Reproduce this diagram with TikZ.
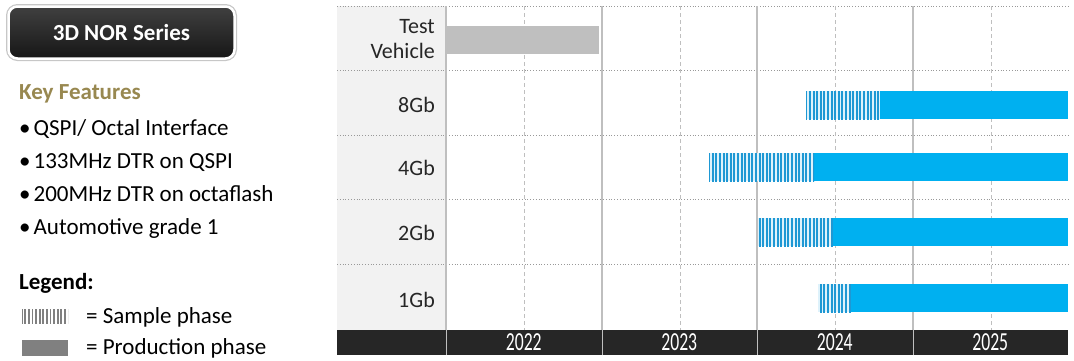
\documentclass[tikz,border=0pt]{standalone}
\usepackage{fontspec}
\setmainfont{Carlito}
\newfontfamily\yearfont[FakeStretch=0.68]{Carlito}
\definecolor{titleTop}{RGB}{64,64,64}
\definecolor{titleBottom}{RGB}{22,22,22}
\definecolor{keyGold}{RGB}{152,136,80}
\definecolor{labelGray}{RGB}{242,242,242}
\definecolor{gridGray}{RGB}{191,191,191}
\definecolor{axisDark}{RGB}{38,38,38}
\definecolor{prodBlue}{RGB}{0,176,240}
\definecolor{sampleBlue}{RGB}{30,152,212}
\definecolor{sampleBg}{RGB}{222,242,251}
\definecolor{vehicleGray}{RGB}{191,191,191}
\definecolor{legendGray}{RGB}{128,128,128}
\definecolor{textDark}{RGB}{38,38,38}
\usetikzlibrary{patterns.meta}

\begin{document}
\begin{tikzpicture}[
  x=1pt, y=-1pt,
  titlebox/.style={
    rounded corners=9pt, top color=titleTop, bottom color=titleBottom,
    draw=white, line width=2.5pt, preaction={draw=black!22, line width=5pt},
    minimum width=226pt, minimum height=52pt, inner sep=0pt,
    text=white, font=\fontsize{23}{26}\selectfont\bfseries
  },
  plain/.style={inner sep=0pt, anchor=base west, text=black, font=\fontsize{23}{26}\selectfont},
  heading/.style={plain, font=\fontsize{23}{26}\selectfont\bfseries},
  rowlabel/.style={inner sep=0pt, text=textDark, font=\fontsize{22}{25}\selectfont},
  yearlabel/.style={inner sep=0pt, text=white, font=\fontsize{26}{28}\selectfont\yearfont},
  rowline/.style={draw=black!40, dotted, line width=0.8pt},
  yearline/.style={draw=gridGray, line width=1.2pt},
  halfline/.style={draw=gridGray, line width=1pt, dash pattern=on 4pt off 3pt},
  prodbar/.style={fill=prodBlue},
  samplebar/.style={fill=sampleBg, postaction={pattern={Lines[angle=90, distance=3.6pt, line width=2pt]}, pattern color=sampleBlue}},
  legendsample/.style={fill=white, postaction={pattern={Lines[angle=90, distance=3.6pt, line width=1.8pt]}, pattern color=black!50}}
]
  \useasboundingbox (0,0) rectangle (1074,360);

  \node[titlebox] (title) at (121.5,32.5) {3D NOR Series};
  \node[heading, text=keyGold] (keyfeat) at (19,99) {Key Features};
  \foreach \t [count=\i] in {QSPI/ Octal Interface, 133MHz DTR on QSPI, 200MHz DTR on octaflash, Automotive grade 1}
    \node[plain] (feat\i) at (19,{135+33*(\i-1)}) {\textbullet\hspace{3pt}\t};

  \node[heading] (legend) at (19,289) {Legend:};
  \path[legendsample] (22,309) rectangle (68,323);
  \fill[legendGray] (22,340) rectangle (68,356);
  \node[plain] (sample) at (86,323) {= Sample phase};
  \node[plain] (prod) at (86,354) {= Production phase};

  \fill[labelGray] (337,6) rectangle (446,330);
  \foreach \y in {6,70,135,199,264}
    \draw[rowline] (337,\y) -- (1070,\y);
  \foreach \x in {446,602,757,913}
    \draw[yearline] (\x,6) -- (\x,330);
  \foreach \x in {524,680,835,991}
    \draw[halfline] (\x,6) -- (\x,330);

  \node[rowlabel, align=right, anchor=east] (vehicle) at (435,39) {Test\\Vehicle};
  \foreach \t/\yb [count=\i] in {8Gb/112, 4Gb/175, 2Gb/240, 1Gb/307}
    \node[rowlabel, anchor=base east] (row\i) at (435,\yb) {\t};

  \fill[vehicleGray] (447,26) rectangle (599,54);
  \foreach \xa/\xb/\yt in {806/880/91, 709/814/153, 758/833/218, 818/851/284} {
    \fill[prodbar] (\xb,\yt) rectangle (1068,\yt+28);
    \path[samplebar] (\xa,\yt) rectangle (\xb,\yt+28);
  }

  \fill[axisDark] (337,330) rectangle (1068,355);
  \foreach \x in {446,602,757,913}
    \draw[gridGray, line width=1pt] (\x,330) -- (\x,355);
  \foreach \yr [count=\i] in {2022,2023,2024,2025}
    \node[yearlabel, anchor=base] (year\i) at ({446+155.5*(\i-0.5)},350) {\yr};
\end{tikzpicture}
\end{document}
